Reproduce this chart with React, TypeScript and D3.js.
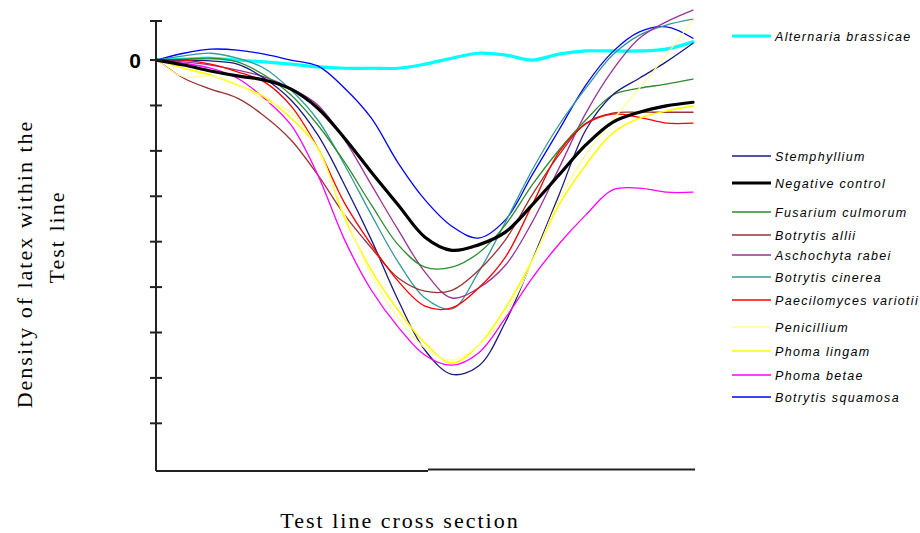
import React from "react";
import * as d3 from "d3";

// Positions across the test line (0 = left edge, 100 = right edge)
const positions = [0, 5, 10, 15, 20, 25, 30, 35, 40, 45, 50, 55, 60, 65, 70, 75, 80, 85, 90, 95, 100];

const alternariaBrassicae = [0, 0.02, 0.04, 0, -0.04, -0.09, -0.15, -0.18, -0.18, -0.18, -0.09, 0.04, 0.15, 0.11, 0, 0.13, 0.2, 0.2, 0.2, 0.24, 0.4];
const stemphyllium = [0, 0, -0.02, -0.09, -0.4, -0.88, -1.65, -2.75, -3.96, -5.29, -6.39, -6.92, -6.74, -5.77, -4.41, -2.97, -1.54, -0.77, -0.4, -0.04, 0.37];
const negativeControl = [0, -0.11, -0.24, -0.35, -0.44, -0.64, -1.06, -1.72, -2.47, -3.19, -3.9, -4.19, -4.07, -3.79, -3.19, -2.53, -1.87, -1.37, -1.15, -1.01, -0.93];
const fusariumCulmorum = [0, 0.02, 0.04, -0.04, -0.33, -0.77, -1.43, -2.25, -3.19, -4.07, -4.56, -4.56, -4.25, -3.63, -2.75, -1.98, -1.32, -0.77, -0.62, -0.53, -0.42];
const botrytisAllii = [0, -0.4, -0.64, -0.84, -1.23, -1.76, -2.53, -3.41, -4.14, -4.8, -5.09, -5.07, -4.63, -3.96, -2.97, -2.09, -1.39, -1.17, -1.15, -1.15, -1.15];
const aschochytaRabei = [0, -0.04, -0.11, -0.22, -0.37, -0.62, -0.99, -1.76, -2.75, -3.74, -4.67, -5.24, -5.02, -4.52, -3.57, -2.38, -1.17, -0.22, 0.48, 0.84, 1.1];
const botrytisCinerea = [0, 0.09, 0.15, 0.04, -0.18, -0.66, -1.32, -2.31, -3.41, -4.45, -5.24, -5.48, -4.67, -3.57, -2.42, -1.43, -0.62, 0.11, 0.55, 0.77, 0.9];
const paecilomycesVariotii = [0, 0, -0.09, -0.26, -0.48, -1.01, -1.94, -3.15, -4.07, -4.87, -5.42, -5.46, -5.02, -4.34, -3.19, -2.03, -1.41, -1.19, -1.26, -1.39, -1.39];
const penicillium = [0, -0.37, -0.35, -0.53, -0.88, -1.15, -1.98, -3.41, -4.74, -5.68, -6.34, -6.61, -6.28, -5.62, -4.45, -3.08, -2.09, -1.32, -0.62, 0.11, 0.88];
const phomaLingam = [0, -0.18, -0.33, -0.55, -0.81, -1.28, -1.94, -3.48, -4.63, -5.51, -6.23, -6.67, -6.28, -5.46, -4.41, -3.19, -2.31, -1.61, -1.28, -1.12, -1.01];
const phomaBetae = [0, -0.07, -0.18, -0.4, -0.84, -1.43, -2.53, -3.96, -5.07, -5.88, -6.5, -6.72, -6.45, -5.68, -4.8, -4.05, -3.41, -2.86, -2.82, -2.91, -2.91];
const botrytisSquamosa = [0, 0.15, 0.24, 0.22, 0.13, 0, -0.13, -0.62, -1.28, -2.27, -3.08, -3.66, -3.92, -3.52, -2.53, -1.54, -0.55, 0.18, 0.62, 0.73, 0.48];

const yTickValues = [0.86, 0, -1, -2, -3, -4, -5, -6, -7, -8];

type Series = { name: string; values: number[]; color: string; width: number; legendY: number };

const series: Series[] = [
  { name: "Botrytis squamosa", values: botrytisSquamosa, color: "#0000ff", width: 1.3, legendY: 397 },
  { name: "Phoma betae", values: phomaBetae, color: "#ff00ff", width: 1.3, legendY: 375 },
  { name: "Phoma lingam", values: phomaLingam, color: "#ffff00", width: 1.6, legendY: 351 },
  { name: "Penicillium", values: penicillium, color: "#ffff99", width: 1.2, legendY: 327 },
  { name: "Paecilomyces variotii", values: paecilomycesVariotii, color: "#ff0000", width: 1.3, legendY: 300 },
  { name: "Botrytis cinerea", values: botrytisCinerea, color: "#339999", width: 1.3, legendY: 277 },
  { name: "Aschochyta rabei", values: aschochytaRabei, color: "#993399", width: 1.3, legendY: 255 },
  { name: "Botrytis allii", values: botrytisAllii, color: "#993333", width: 1.3, legendY: 235 },
  { name: "Fusarium culmorum", values: fusariumCulmorum, color: "#2e8b2e", width: 1.3, legendY: 212 },
  { name: "Negative control", values: negativeControl, color: "#000000", width: 3.2, legendY: 183 },
  { name: "Stemphyllium", values: stemphyllium, color: "#1a1a80", width: 1.3, legendY: 156 },
  { name: "Alternaria brassicae", values: alternariaBrassicae, color: "#00ffff", width: 3.2, legendY: 36 },
];

const drawOrder = [
  "Alternaria brassicae",
  "Botrytis squamosa",
  "Botrytis cinerea",
  "Aschochyta rabei",
  "Fusarium culmorum",
  "Stemphyllium",
  "Botrytis allii",
  "Paecilomyces variotii",
  "Phoma betae",
  "Phoma lingam",
  "Penicillium",
  "Negative control",
];

export default function App() {
  const W = 920;
  const H = 533;
  const x = d3.scaleLinear().domain([0, 100]).range([157, 693]);
  const y = d3.scaleLinear().domain([-9.05, 0.86]).range([471, 21]);

  const line = d3
    .line<[number, number]>()
    .x((d) => x(d[0]))
    .y((d) => y(d[1]))
    .curve(d3.curveCatmullRom.alpha(0.5));

  const axisX = 156;
  const bottom = y(-9.05);
  const top = y(0.86);
  const byName = new Map(series.map((s) => [s.name, s]));

  const legendFont = "Arial, 'Liberation Sans', sans-serif";
  const serif = "'Times New Roman', 'Liberation Serif', serif";

  return (
    <svg
      width={W}
      height={H}
      viewBox={`0 0 ${W} ${H}`}
      style={{ position: "absolute", left: 0, top: 0, background: "#fff" }}
    >
      <rect x={0} y={0} width={W} height={H} fill="#fff" />

      {/* curves */}
      <g fill="none" strokeLinejoin="round" strokeLinecap="round">
        {drawOrder.map((n) => {
          const s = byName.get(n)!;
          const pts = positions.map((p, i) => [p, s.values[i]] as [number, number]);
          return <path key={n} d={line(pts) ?? ""} stroke={s.color} strokeWidth={s.width} />;
        })}
      </g>

      {/* axes */}
      <g stroke="#222" strokeWidth={2} fill="none">
        <line x1={axisX} y1={top} x2={axisX} y2={bottom} />
        <line x1={axisX} y1={bottom} x2={x(50) + 3} y2={bottom} />
        <line x1={x(50) + 3} y1={bottom - 1.5} x2={x(100) + 2} y2={bottom - 1.5} />
        {yTickValues.map((v) => (
          <line key={v} x1={axisX - 6} x2={axisX + 6} y1={y(v)} y2={y(v)} />
        ))}
      </g>

      <text
        x={141}
        y={y(0) + 7.5}
        textAnchor="end"
        fontFamily="Arial, 'Liberation Sans', sans-serif"
        fontWeight="bold"
        fontSize={21}
        fill="#000"
      >
        0
      </text>

      {/* axis titles */}
      <text
        x={400}
        y={528}
        textAnchor="middle"
        fontFamily={serif}
        fontSize={22}
        letterSpacing={2}
        fill="#000"
      >
        Test line cross section
      </text>
      <text
        transform="translate(32,264) rotate(-90)"
        textAnchor="middle"
        fontFamily={serif}
        fontSize={22}
        letterSpacing={2}
        fill="#000"
      >
        Density of latex within the
      </text>
      <text
        transform="translate(64,237) rotate(-90)"
        textAnchor="middle"
        fontFamily={serif}
        fontSize={22}
        letterSpacing={2}
        fill="#000"
      >
        Test line
      </text>

      {/* legend */}
      <g>
        {series.map((s) => (
          <g key={s.name}>
            <line
              x1={732}
              x2={771}
              y1={s.legendY}
              y2={s.legendY}
              stroke={s.color}
              strokeWidth={s.width >= 3 ? 3 : 1.5}
            />
            <text
              x={775}
              y={s.legendY + 4.5}
              fontFamily={legendFont}
              fontStyle="italic"
              fontSize={12.5}
              letterSpacing={1.3}
              fill="#000"
            >
              {s.name}
            </text>
          </g>
        ))}
      </g>
    </svg>
  );
}
